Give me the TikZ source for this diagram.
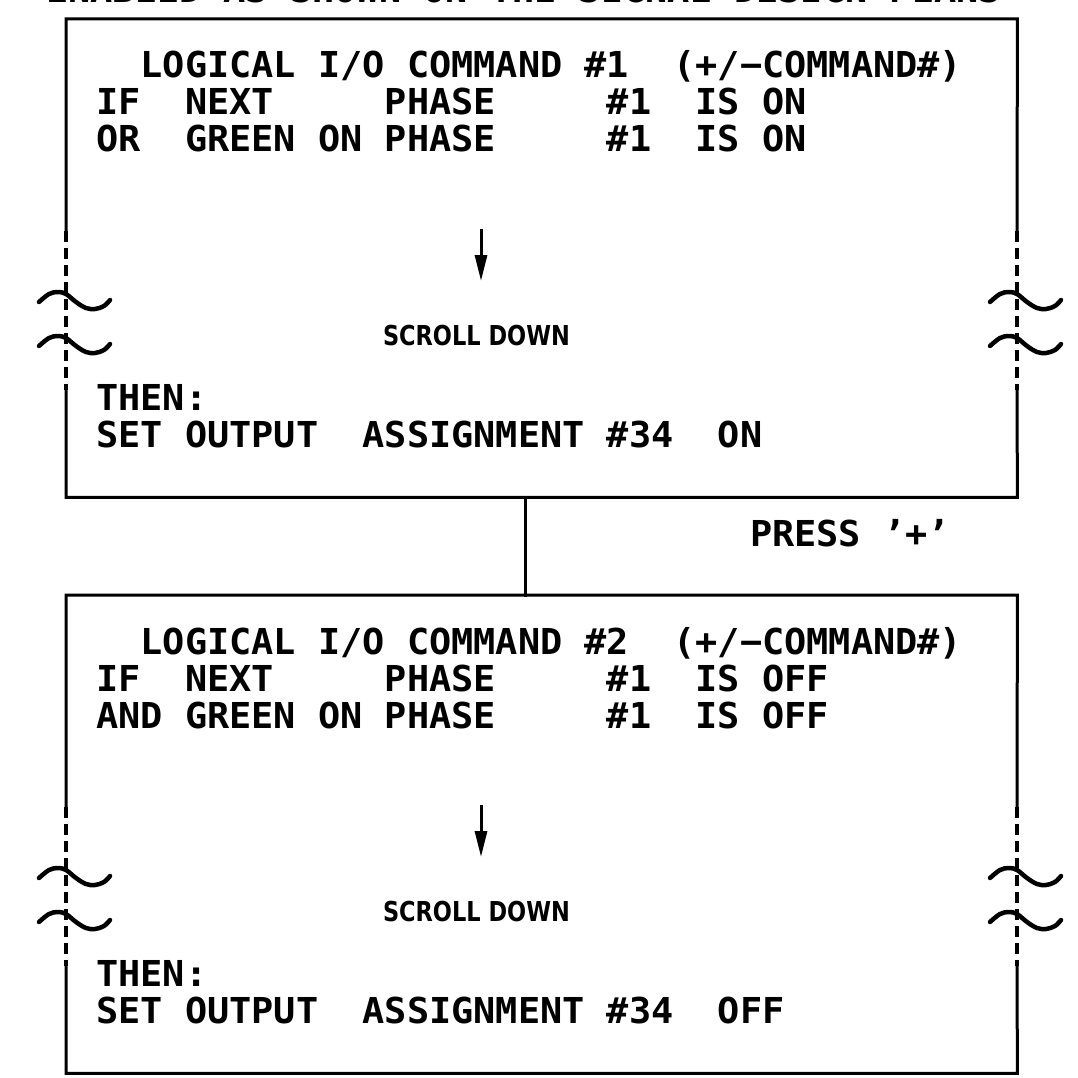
\documentclass[tikz,border=0pt]{standalone}
\usepackage{fontspec}
\usetikzlibrary{arrows.meta,calc}
\newfontfamily\plotmono{DejaVu Sans Mono}[FakeStretch=1.033]
\newfontfamily\plotsans{DejaVu Sans}[FakeStretch=0.82]
\def\plcolx{96.3}
\def\plpitch{22.2}
\newcommand\plw[5]{\node[mt] (#1) at ({\plcolx+#2*\plpitch},{#3+#4}) {#5};}
\tikzset{
  mt/.style={anchor=base west, inner sep=0pt, outer sep=0pt, font=\plotmono\bfseries\fontsize{35.7}{40}\selectfont},
  sd/.style={anchor=base west, inner sep=0pt, outer sep=0pt, font=\plotsans\bfseries\fontsize{27.4}{30}\selectfont},
  border/.style={line width=3pt, line cap=rect},
  dashside/.style={line width=4pt, dash pattern=on 11pt off 6pt},
  tilde/.style={line width=4.5pt, line cap=round, line join=round},
  downarrow/.style={line width=3pt, -{Triangle[length=26pt,width=12pt]}},
}
\begin{document}
\begin{tikzpicture}[x=1pt,y=-1pt]
\useasboundingbox (0,0) rectangle (1077,1078);
\begin{scope}
\clip (0,0) rectangle (1077,1078);
\node[mt] (topnote) at (46,3) {ENABLED AS SHOWN ON THE SIGNAL DESIGN PLANS};
\end{scope}
\coordinate (cx) at (525,0);
\foreach \o/\n/\cmd/\st/\conj in {0/A/1/ON/OR,576/B/2/OFF/AND}{
  \node[minimum width=951pt, minimum height=478pt, inner sep=0pt, anchor=north west] (\n-box) at (66,{19+\o}) {};
  % solid parts of the border
  \draw[border] (66,{231+\o}) -- (\n-box.north west) -- (\n-box.north east) -- (1017,{231+\o});
  \draw[border] (66,{390+\o}) -- (\n-box.south west) -- (\n-box.south east) -- (1017,{390+\o});
  % dashed (broken) parts
  \draw[dashside] (66,{231+\o}) -- (66,{390+\o});
  \draw[dashside] (1017,{231+\o}) -- (1017,{390+\o});
  % break symbols
  \foreach \bx in {66,1017}{
    \foreach \by in {293,337}{
      \draw[tilde, shift={(\bx,{\by+\o})}] plot[smooth, tension=0.6] coordinates {(-27,9) (-17,1) (-8,-1) (0,1) (10,9) (20,15) (29,16) (38,13) (44,7)};
    }
  }
  % texts
  \plw{\n-l1a}{2}{78}{\o}{LOGICAL}
  \plw{\n-l1b}{10}{78}{\o}{I/O}
  \plw{\n-l1c}{14}{78}{\o}{COMMAND}
  \plw{\n-l1d}{22}{78}{\o}{\#\cmd}
  \plw{\n-l1e}{26}{78}{\o}{(+/−COMMAND\#)}
  \plw{\n-l2a}{0}{115}{\o}{IF}
  \plw{\n-l2b}{4}{115}{\o}{NEXT}
  \plw{\n-l2c}{13}{115}{\o}{PHASE}
  \plw{\n-l2d}{23}{115}{\o}{\#1}
  \plw{\n-l2e}{27}{115}{\o}{IS}
  \plw{\n-l2f}{30}{115}{\o}{\st}
  \plw{\n-l3a}{0}{152}{\o}{\conj}
  \plw{\n-l3b}{4}{152}{\o}{GREEN}
  \plw{\n-l3c}{10}{152}{\o}{ON}
  \plw{\n-l3d}{13}{152}{\o}{PHASE}
  \plw{\n-l3e}{23}{152}{\o}{\#1}
  \plw{\n-l3f}{27}{152}{\o}{IS}
  \plw{\n-l3g}{30}{152}{\o}{\st}
  \plw{\n-then}{0}{410}{\o}{THEN:}
  \plw{\n-s1}{0}{447}{\o}{SET}
  \plw{\n-s2}{4}{447}{\o}{OUTPUT}
  \plw{\n-s3}{12}{447}{\o}{ASSIGNMENT}
  \plw{\n-s4}{23}{447}{\o}{\#34}
  \plw{\n-s5}{28}{447}{\o}{\st}
  \node[sd] (\n-scroll) at (383,{345+\o}) {SCROLL DOWN};
  \coordinate (\n-at) at (481,{229+\o});
  \coordinate (\n-ab) at (481,{281+\o});
  \draw[downarrow] (\n-at) -- (\n-ab);
}
\draw[border] (A-box.south -| cx) -- (B-box.north -| cx);
\node[mt] (press) at (750,546) {PRESS ’+’};
\end{tikzpicture}
\end{document}
